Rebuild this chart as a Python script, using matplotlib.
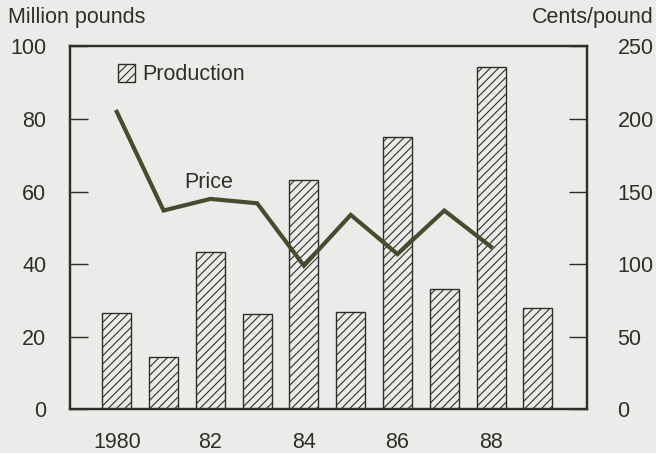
import matplotlib.pyplot as plt
import numpy as np

plt.rcParams.update(
    {
        "font.family": ["Liberation Sans", "DejaVu Sans"],
        "font.size": 15.5,
        "hatch.linewidth": 0.8,
        "hatch.color": "#2f2f2a",
    }
)

BG = "#ebebe9"
INK = "#2f2f2a"
LINE = "#4a4a2e"
FONT = ["Liberation Sans", "DejaVu Sans"]

# ── Data ──────────────────────────────────────────────────────────────────────
years = [1980, 1981, 1982, 1983, 1984, 1985, 1986, 1987, 1988, 1989]
production = [26.7, 14.5, 43.3, 26.4, 63.2, 26.9, 75.1, 33.1, 94.4, 28.0]  # million pounds

price_years = [1980, 1981, 1982, 1983, 1984, 1985, 1986, 1987, 1988]
price = [205, 137, 145, 142, 99, 134, 107, 137, 112]  # cents/pound

xtick_years = [1980, 1982, 1984, 1986, 1988]
xtick_labels = ["1980", "82", "84", "86", "88"]

# ── Figure ────────────────────────────────────────────────────────────────────
fig = plt.figure(figsize=(6.56, 4.53), dpi=100, facecolor=BG)
ax = fig.add_axes([0.1067, 0.0962, 0.7881, 0.8012], facecolor=BG)
ax2 = ax.twinx()

ax.bar(years, production, width=0.62, color=BG, edgecolor=INK, linewidth=1.0,
       hatch="////", label="Production", zorder=2)
ax2.plot(price_years, price, color=LINE, linewidth=3.0, solid_joinstyle="miter", zorder=3)

ax.set_xlim(1979, 1990.05)
ax.set_ylim(0, 100)
ax2.set_ylim(0, 250)

ax.set_xticks(xtick_years)
ax.set_xticklabels(xtick_labels, fontfamily=FONT)
ax.set_yticks(np.arange(0, 101, 20))
ax2.set_yticks(np.arange(0, 251, 50))

ax.tick_params(axis="y", direction="in", length=13, width=1.0, color=INK, pad=17, labelcolor=INK)
ax2.tick_params(axis="y", direction="in", length=13, width=1.0, color=INK, pad=22, labelcolor=INK)
ax.tick_params(axis="x", direction="in", length=3, width=0.8, color=INK, pad=16, labelcolor=INK)
for lab in ax2.get_yticklabels():
    lab.set_horizontalalignment("left")

for a in (ax, ax2):
    for s in a.spines.values():
        s.set_color(INK)
        s.set_linewidth(1.6)

# Axis titles sit above the tick labels
fig.text(0.012, 0.962, "Million pounds", ha="left", va="center", color=INK)
fig.text(0.996, 0.962, "Cents/pound", ha="right", va="center", color=INK)

ax.text(1981.45, 62.4, "Price", ha="left", va="center", color=INK)

leg = ax.legend(loc="upper left", bbox_to_anchor=(0.06, 1.0), frameon=False,
                handlelength=0.8, handleheight=0.9, handletextpad=0.3, borderaxespad=0.4)
for t in leg.get_texts():
    t.set_color(INK)

fig.savefig("out.png", dpi=100, facecolor=BG)
